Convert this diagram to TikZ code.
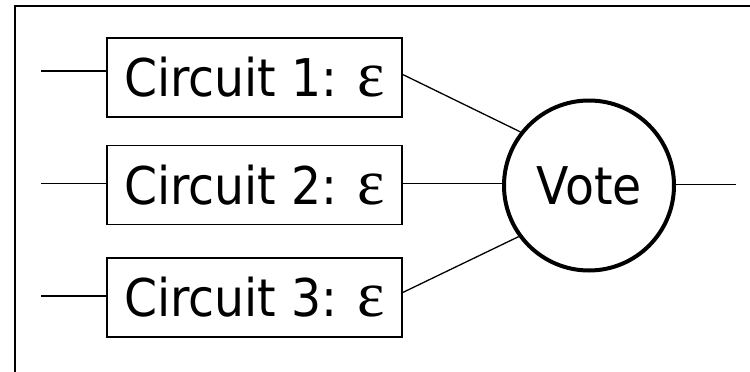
\documentclass[tikz,border=0pt]{standalone}
\usepackage{fontspec}
\newfontfamily\tah[FakeStretch=0.91]{DejaVu Sans}
\newfontfamily\epsfont{Liberation Serif}
\newcommand{\epsi}{{\epsfont\fontsize{65}{65}\selectfont ε}}
\begin{document}
\begin{tikzpicture}[x=1pt,y=-1pt,
  lbl/.style={font=\tah\fontsize{52}{52}\selectfont, text height=38pt, text depth=0pt},
  cbox/.style={draw, line width=1.5pt, minimum width=295pt, minimum height=79pt, inner sep=0pt, lbl},
  votec/.style={draw, circle, line width=4pt, minimum size=170pt, inner sep=0pt, lbl},
  wire/.style={line width=1.3pt}]
\useasboundingbox (0,0) rectangle (750,372);
\clip (0,0) rectangle (750,372);
\draw[line width=2pt] (15,6) rectangle (780,400);
\node[cbox] (b1) at (254.5,77.5) {Circuit 1: \epsi};
\node[cbox] (b2) at (254.5,185) {Circuit 2: \epsi};
\node[cbox] (b3) at (254.5,297.5) {Circuit 3: \epsi};
\node[votec] (v) at (589,185.5) {Vote};
\coordinate (i1) at (41,71);
\coordinate (i2) at (41,183.5);
\coordinate (i3) at (41,296);
\coordinate (o) at (736,184.5);
\draw[wire] (i1) -- (i1 -| b1.west);
\draw[wire] (i2) -- (i2 -| b2.west);
\draw[wire] (i3) -- (i3 -| b3.west);
\draw[wire] ([yshift=3pt]b1.east) -- (v.142);
\draw[wire] ([yshift=1.5pt]b2.east) -- ([yshift=1.5pt]b2.east -| v.west);
\draw[wire] ([yshift=5pt]b3.east) -- (v.216);
\draw[wire] ([yshift=1pt]v.east) -- (o);
\end{tikzpicture}
\end{document}
